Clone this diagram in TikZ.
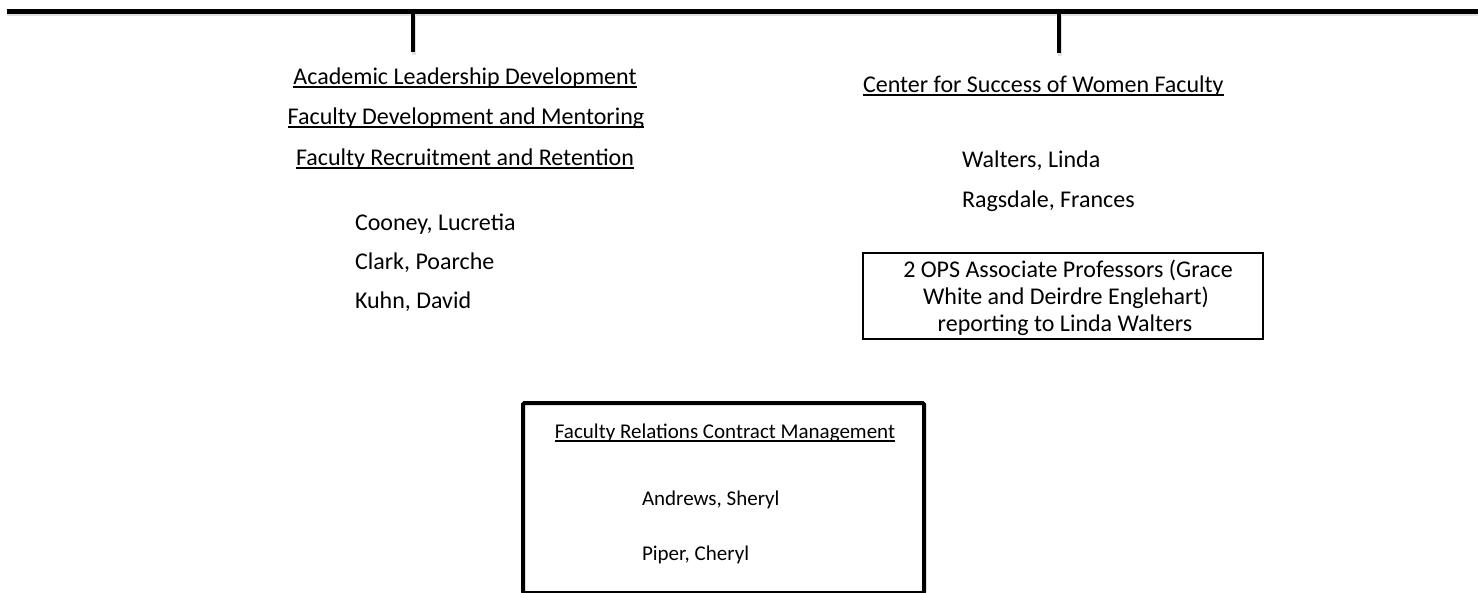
\documentclass[tikz,border=0pt]{standalone}
\usepackage{fontspec}
\setmainfont{Carlito}
\begin{document}
\begin{tikzpicture}[x=1pt,y=-1pt,
  txt/.style={inner sep=0pt,outer sep=0pt,font=\fontsize{24pt}{29pt}\selectfont},
  smalltxt/.style={inner sep=0pt,outer sep=0pt,font=\fontsize{21pt}{25pt}\selectfont},
  ul/.style={line width=2pt,black},
  bar/.style={line width=5pt,black},
  shadowbar/.style={line width=5pt,black!12},
  thinbox/.style={draw=black,line width=2pt},
  thickbox/.style={draw=black,line width=4pt,rounded corners=1.5pt}]
\useasboundingbox (0,0) rectangle (1478,592);
% top bar and ticks
\coordinate (barL) at (7,11);
\coordinate (barR) at (1478,11);
\coordinate (tickLtop) at (413,11);
\coordinate (tickLbot) at (413,52);
\coordinate (tickRtop) at (1059,11);
\coordinate (tickRbot) at (1059,53);
\draw[shadowbar] ([yshift=-2.5pt]barL) -- ([yshift=-2.5pt]barR);
\draw[shadowbar,line width=4pt] ([xshift=1pt,yshift=-2.5pt]tickLtop) -- ([xshift=1pt,yshift=-2.5pt]tickLbot);
\draw[shadowbar,line width=4pt] ([xshift=1pt,yshift=-2.5pt]tickRtop) -- ([xshift=1pt,yshift=-2.5pt]tickRbot);
\draw[bar] (barL) -- (barR);
\draw[line width=4pt] (tickLtop) -- (tickLbot);
\draw[line width=4.5pt] (tickRtop) -- (tickRbot);
% left column
\node[txt,anchor=base] (t1) at (465,84.5) {Academic Leadership Development};
\node[txt,anchor=base] (t2) at (466,124.5) {Faculty Development and Mentoring};
\node[txt,anchor=base] (t3) at (465,165.5) {Faculty Recruitment and Retention};
\foreach \n in {t1,t2,t3}
  \draw[ul] ([yshift=-2.8pt]\n.base west) -- ([yshift=-2.8pt]\n.base east);
\node[txt,anchor=base west] (n1) at (355,230) {Cooney, Lucretia};
\node[txt,anchor=base west] (n2) at (355,269.5) {Clark, Poarche};
\node[txt,anchor=base west] (n3) at (355,308) {Kuhn, David};
% right column
\node[txt,anchor=base west] (c1) at (863,92.5) {Center for Success of Women Faculty};
\draw[ul] ([yshift=-2.8pt]c1.base west) -- ([yshift=-2.8pt]c1.base east);
\node[txt,anchor=base west] (w1) at (962,167) {Walters, Linda};
\node[txt,anchor=base west] (w2) at (962,207) {Ragsdale, Frances};
\draw[thinbox] (863,253) rectangle (1263,339);
\node[txt,anchor=base] (b1) at (1068,277) {2 OPS Associate Professors (Grace};
\node[txt,anchor=base] (b2) at (1066,304) {White and Deirdre Englehart)};
\node[txt,anchor=base] (b3) at (1065,331) {reporting to Linda Walters};
% bottom box
\draw[thickbox] (523,403) rectangle (924,593);
\node[smalltxt,anchor=base] (f1) at (725,438.5) {Faculty Relations Contract Management};
\draw[ul,line width=1.8pt] ([yshift=-2.6pt]f1.base west) -- ([yshift=-2.6pt]f1.base east);
\node[smalltxt,anchor=base west] (a1) at (642,505) {Andrews, Sheryl};
\node[smalltxt,anchor=base west] (a2) at (642,560) {Piper, Cheryl};
\end{tikzpicture}
\end{document}
